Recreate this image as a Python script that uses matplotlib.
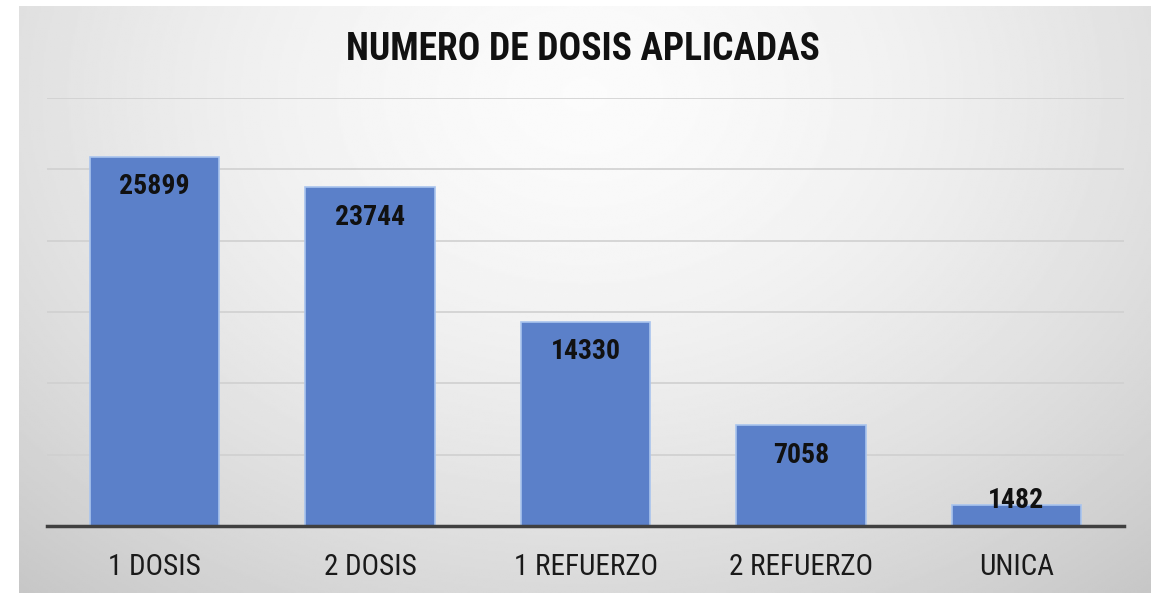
import matplotlib.pyplot as plt
import numpy as np

categorias = ['1 DOSIS', '2 DOSIS', '1 REFUERZO', '2 REFUERZO', 'UNICA']
dosis = [25899, 23744, 14330, 7058, 1482]

plt.rcParams['font.family'] = ['Roboto Condensed', 'DejaVu Sans']

fig = plt.figure(figsize=(11.54, 5.93), dpi=100)

# fondo con degradado radial
fondo = fig.add_axes([19/1154, 0, 1 - 22/1154, 1 - 6/593], zorder=0)
yy, xx = np.mgrid[0:1:300j, 0:1:600j]
r = np.sqrt(((xx - 0.5) / 0.75) ** 2 + ((yy - 0.15) / 1.1) ** 2)
grad = np.clip(0.985 - 0.2 * r ** 1.6, 0.76, 1)
fondo.imshow(grad, cmap='gray', vmin=0, vmax=1, aspect='auto', extent=[0, 1, 1, 0])
fondo.axis('off')

ax = fig.add_axes([47/1154, 1 - 526/593, 1077/1154, 428/593], zorder=1)
ax.patch.set_alpha(0)
x = np.arange(len(categorias))
ax.bar(x, dosis, width=0.6, color='#5B80C9', edgecolor='#A9C4EE', linewidth=1.2, zorder=2)
ax.set_xlim(-0.5, len(categorias) - 0.5)
ax.set_ylim(0, 30000)
ax.set_yticks(np.arange(0, 30001, 5000))
ax.yaxis.grid(True, color='#D0D0D0', linewidth=1.2, zorder=0)
ax.tick_params(axis='y', left=False, labelleft=False)
ax.tick_params(axis='x', bottom=False, labelsize=21, pad=16, colors='#1a1a1a')
ax.set_xticks(x)
ax.set_xticklabels(categorias)
for s in ['top', 'right', 'left']:
    ax.spines[s].set_visible(False)
ax.spines['bottom'].set_color('#404040')
ax.spines['bottom'].set_linewidth(2.5)
ax.spines['bottom'].set_zorder(3)

for xi, v in zip(x, dosis):
    off = -30 if v > 4000 else 4
    ax.annotate(str(v), (xi, v), xytext=(0, off), textcoords='offset pixels',
                ha='center', va='center', fontsize=20, fontweight='bold', color='#111111', zorder=4)

fig.text(0.5 + 6/1154, 1 - 49/593, 'NUMERO DE DOSIS APLICADAS', ha='center', va='center',
         fontsize=27, fontweight='bold', color='#111111', zorder=5)

fig.savefig('out.png', dpi=100)
